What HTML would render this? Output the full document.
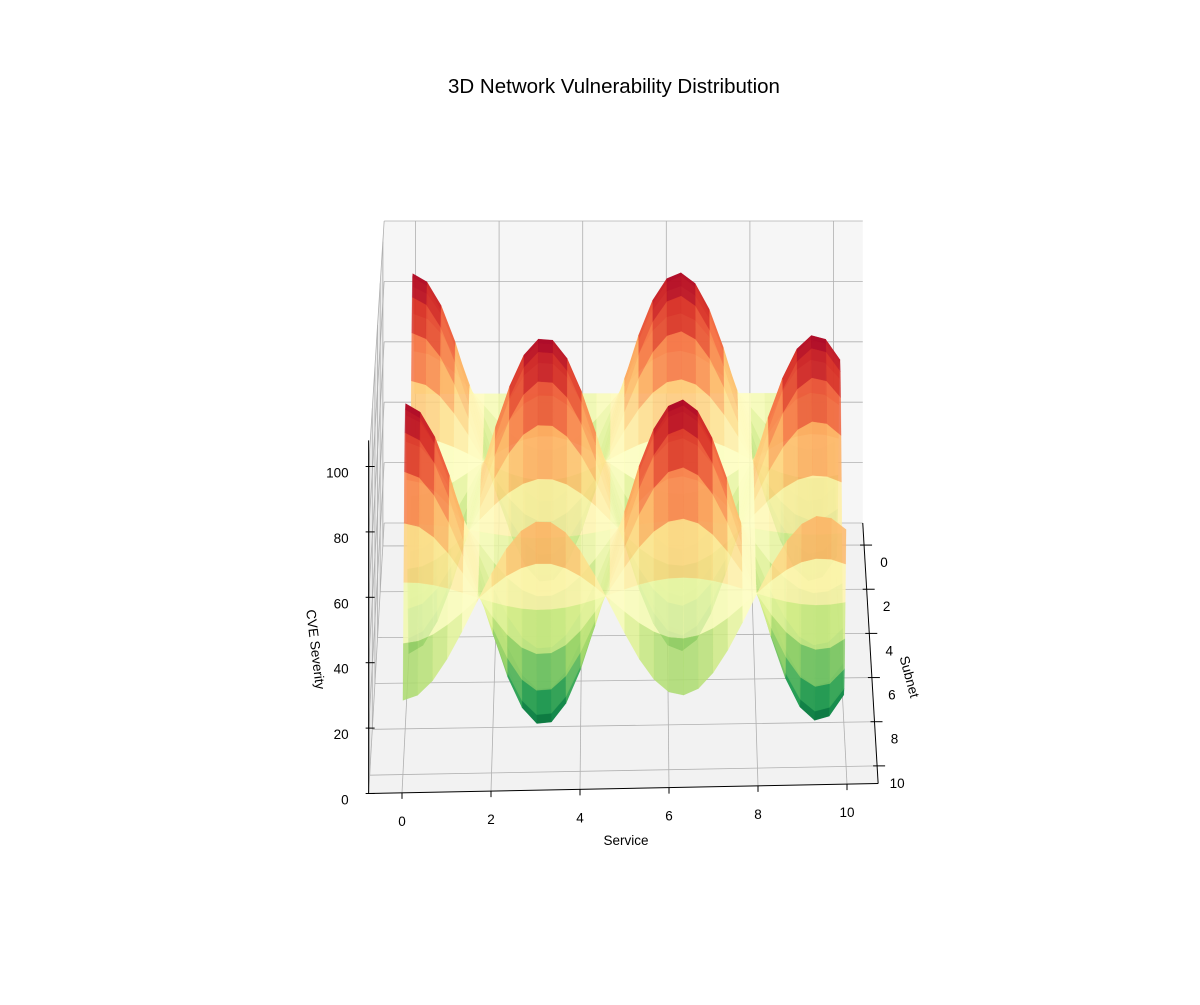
<!DOCTYPE html>
<html><head><meta charset="utf-8"><style>
html,body{margin:0;padding:0;background:#fff;}
svg text{font-family:"Liberation Sans","DejaVu Sans",sans-serif;fill:#000;}
</style></head><body>
<svg id="s" width="1200" height="1000" viewBox="0 0 1200 1000" xmlns="http://www.w3.org/2000/svg">
<rect width="1200" height="1000" fill="#fff"/>
<g id="panes"></g><g id="grid"></g><g id="surf"></g><g id="axes"></g>
<text x="614" y="93" font-size="20.5" text-anchor="middle">3D Network Vulnerability Distribution</text>
<text x="626" y="845" font-size="13.5" text-anchor="middle">Service</text>
<text transform="translate(311,650) rotate(83)" font-size="13.5" text-anchor="middle">CVE Severity</text>
<text transform="translate(905,678) rotate(75)" font-size="13.5" text-anchor="middle">Subnet</text>
</svg>
<script>
const NS="http://www.w3.org/2000/svg";
const X0=-0.75,X1=10.7,Y0=-1,Y1=10.8,Z0=0,Z1=100;
function P(x,y,z){const f=(y-Y0)/(Y1-Y0);
 const sx=624.5+(x-5)*(41.8+2.7*f);
 const sy=523+(y-Y0)*22.5+(5-x)*0.87*f - z*(3.02+0.25*f);
 return [sx,sy];}
function el(p,tag,a){const e=document.createElementNS(NS,tag);for(const k in a)e.setAttribute(k,a[k]);document.getElementById(p).appendChild(e);return e;}
function poly(p,pts,a){a.points=pts.map(q=>q[0].toFixed(1)+","+q[1].toFixed(1)).join(" ");return el(p,"polygon",a);}
function line(p,a,b,st){return el(p,"line",Object.assign({x1:a[0],y1:a[1],x2:b[0],y2:b[1]},st));}
poly("panes",[P(X0,Y0,Z0),P(X1,Y0,Z0),P(X1,Y1,Z0),P(X0,Y1,Z0)],{fill:"#f2f2f2"});
poly("panes",[P(X0,Y0,Z0),P(X1,Y0,Z0),P(X1,Y0,Z1),P(X0,Y0,Z1)],{fill:"#f6f6f6"});
poly("panes",[P(X0,Y0,Z0),P(X0,Y1,Z0),P(X0,Y1,Z1),P(X0,Y0,Z1)],{fill:"#ececec"});
const gs={stroke:"#b0b0b0","stroke-width":0.8};
for(let x=0;x<=10;x+=2){line("grid",P(x,Y0,0),P(x,Y1,0),gs);line("grid",P(x,Y0,0),P(x,Y0,Z1),gs);}
for(let y=0;y<=10;y+=2){line("grid",P(X0,y,0),P(X1,y,0),gs);line("grid",P(X0,y,0),P(X0,y,Z1),gs);}
for(let z=0;z<=100;z+=20){line("grid",P(X0,Y0,z),P(X1,Y0,z),gs);line("grid",P(X0,Y0,z),P(X0,Y1,z),gs);}
const cm=["#006837","#1a9850","#66bd63","#a6d96a","#d9ef8b","#ffffbf","#fee08b","#fdae61","#f46d43","#d73027","#a50026"].map(h=>[parseInt(h.substr(1,2),16),parseInt(h.substr(3,2),16),parseInt(h.substr(5,2),16)]);
function col(t){t=Math.max(0,Math.min(1,t))*10;const i=Math.min(9,Math.floor(t)),f=t-i;const a=cm[i],b=cm[i+1];
 return "rgb("+[0,1,2].map(k=>Math.round(a[k]+(b[k]-a[k])*f)).join(",")+")";}
const N=30;const F=(x,y)=>50+50*Math.cos(x)*Math.sin(y);
let zs=[];for(let i=0;i<=N;i++){zs[i]=[];for(let j=0;j<=N;j++)zs[i][j]=F(10*i/N,10*j/N);}
let mn=Infinity,mx=-Infinity;zs.forEach(r=>r.forEach(v=>{mn=Math.min(mn,v);mx=Math.max(mx,v);}));
let quads=[];
for(let j=0;j<N;j++)for(let i=0;i<N;i++){
 const x0=10*i/N,x1=10*(i+1)/N,y0=10*j/N,y1=10*(j+1)/N;
 const zz=[zs[i][j],zs[i+1][j],zs[i+1][j+1],zs[i][j+1]];
 const za=(zz[0]+zz[1]+zz[2]+zz[3])/4;
 const pts=[P(x0,y0,zz[0]),P(x1,y0,zz[1]),P(x1,y1,zz[2]),P(x0,y1,zz[3])];
 quads.push({d:(y0+y1)/2+za*0.02,pts,c:col((za-mn)/(mx-mn))});
}
quads.sort((a,b)=>a.d-b.d);
quads.forEach(q=>poly("surf",q.pts,{fill:q.c,"fill-opacity":0.85,stroke:q.c,"stroke-opacity":0.5,"stroke-width":0.4}));
const ax={stroke:"#000","stroke-width":1};
line("axes",P(X0,Y1,0),P(X1,Y1,0),ax);
line("axes",P(X1,Y0,0),P(X1,Y1,0),ax);
line("axes",P(X0,Y1,0),P(X0,Y1,Z1+8),ax);
for(let x=0;x<=10;x+=2){const p=P(x,Y1,0);line("axes",p,[p[0],p[1]+6],ax);
 const t=el("axes","text",{x:p[0],y:p[1]+33,"font-size":13.5,"text-anchor":"middle"});t.textContent=x;}
for(let y=0;y<=10;y+=2){const p=P(X1,y,0);line("axes",[p[0]-4,p[1]],[p[0]+8,p[1]],ax);
 const t=el("axes","text",{x:p[0]+20,y:p[1]+22,"font-size":13.5,"text-anchor":"middle"});t.textContent=y;}
for(let z=0;z<=100;z+=20){const p=P(X0,Y1,z);line("axes",[p[0]-3,p[1]],[p[0]+6,p[1]],ax);
 const t=el("axes","text",{x:p[0]-20,y:p[1]+11,"font-size":13.5,"text-anchor":"end"});t.textContent=z;}
</script>
</body></html>
